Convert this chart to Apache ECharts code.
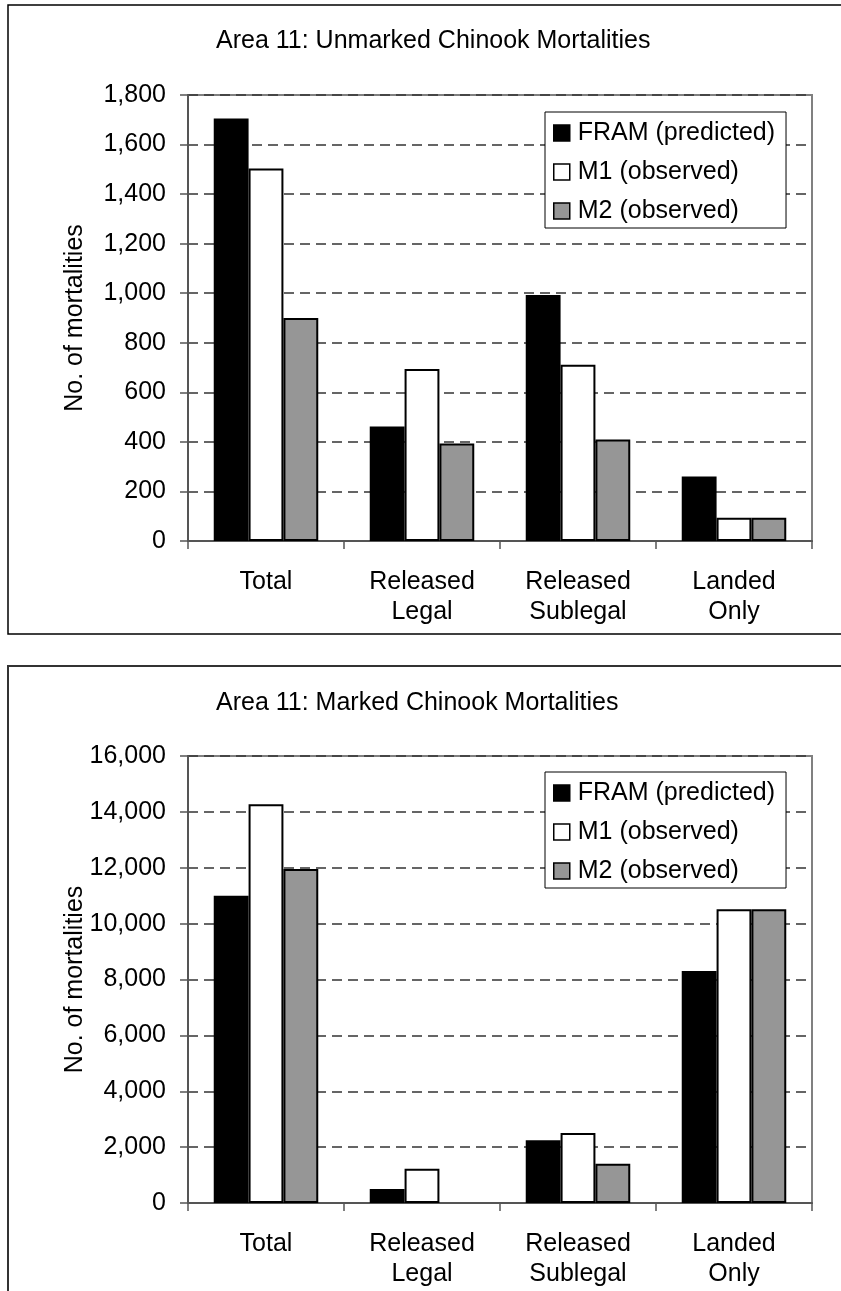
<!DOCTYPE html>
<html>
<head>
<meta charset="utf-8">
<script src="https://cdn.jsdelivr.net/npm/echarts@6/dist/echarts.min.js"></script>
<style>
html,body{margin:0;padding:0;background:#fff;}
#c{width:841px;height:1291px;}
</style>
</head>
<body>
<div id="c"></div>
<script>
var categories = ['Total', 'Released\nLegal', 'Released\nSublegal', 'Landed\nOnly'];
var seriesNames = ['FRAM (predicted)', 'M1 (observed)', 'M2 (observed)'];

var unmarkedFRAM = [1705, 462, 993, 260];
var unmarkedM1 = [1503, 694, 711, 94];
var unmarkedM2 = [900, 394, 410, 94];

var markedFRAM = [11000, 504, 2244, 8300];
var markedM1 = [14272, 1224, 2508, 10513];
var markedM2 = [11951, null, 1404, 10513];

var unmarkedTicks = {min: 0, max: 1800, interval: 200};
var markedTicks = {min: 0, max: 16000, interval: 2000};

var titles = ['Area 11: Unmarked Chinook Mortalities', 'Area 11: Marked Chinook Mortalities'];
var yName = 'No. of mortalities';

var FONT = 'Liberation Sans, Arial, Helvetica, sans-serif';
var styles = [
  {color: '#000000', borderColor: '#000000', borderWidth: 2},
  {color: '#ffffff', borderColor: '#000000', borderWidth: 2},
  {color: '#969696', borderColor: '#000000', borderWidth: 2}
];

function fmt(v) { return v.toLocaleString('en-US'); }

var grids = [
  {left: 188, top: 95, width: 624, height: 446, show: true, borderColor: '#808080', borderWidth: 2, backgroundColor: '#fff'},
  {left: 188, top: 756, width: 624, height: 447, show: true, borderColor: '#808080', borderWidth: 2, backgroundColor: '#fff'}
];

function xAxis(i) {
  return {
    type: 'category', gridIndex: i, data: categories,
    axisLine: {lineStyle: {color: '#555', width: 2}},
    axisTick: {show: true, length: 8, lineStyle: {color: '#555', width: 1.5}, alignWithLabel: false},
    axisLabel: {color: '#000', fontFamily: FONT, fontSize: 25, lineHeight: 30, margin: 26, interval: 0},
    splitLine: {show: false}
  };
}
function yAxis(i, t) {
  return {
    type: 'value', gridIndex: i, min: t.min, max: t.max, interval: t.interval,
    name: yName, nameLocation: 'middle', nameGap: 100, nameMoveOverlap: false,
    nameTextStyle: {color: '#000', fontFamily: FONT, fontSize: 25},
    axisLine: {show: true, lineStyle: {color: '#555', width: 2}},
    axisTick: {show: true, length: 8, lineStyle: {color: '#555', width: 1.5}},
    axisLabel: {color: '#000', fontFamily: FONT, fontSize: 25, margin: 22, formatter: fmt},
    splitLine: {show: true, lineStyle: {color: '#333', width: 1.5, type: [10, 6]}}
  };
}

function bars(i, arrs) {
  return arrs.map(function (d, k) {
    return {
      name: seriesNames[k], type: 'bar', xAxisIndex: i, yAxisIndex: i, data: d,
      barGap: '0%', barCategoryGap: '33%',
      itemStyle: styles[k], emphasis: {disabled: true}, silent: true,
      animation: false
    };
  });
}

function legend(i, top) {
  return {
    show: true, orient: 'vertical', left: 545, top: top,
    data: seriesNames.map(function (n, k) { return {name: n, icon: 'rect', itemStyle: {color: styles[k].color, borderColor: '#000', borderWidth: 1.5}}; }),
    itemWidth: 16, itemHeight: 16, itemGap: 11,
    textStyle: {color: '#000', fontFamily: FONT, fontSize: 25, lineHeight: 28, padding: [0, 0, 0, 3]},
    backgroundColor: '#fff', borderColor: '#000', borderWidth: 1,
    padding: [7, 11, 3, 8],
    selectedMode: false
  };
}

var chart = echarts.init(document.getElementById('c'), null, {renderer: 'canvas'});
chart.setOption({
  animation: false,
  backgroundColor: '#fff',
  title: [
    {text: titles[0], left: 211, top: 24, textStyle: {color: '#000', fontFamily: FONT, fontSize: 25, fontWeight: 'normal'}},
    {text: titles[1], left: 211, top: 686, textStyle: {color: '#000', fontFamily: FONT, fontSize: 25, fontWeight: 'normal'}}
  ],
  legend: [legend(0, 112), legend(1, 772)],
  grid: grids,
  xAxis: [xAxis(0), xAxis(1)],
  yAxis: [yAxis(0, unmarkedTicks), yAxis(1, markedTicks)],
  series: bars(0, [unmarkedFRAM, unmarkedM1, unmarkedM2]).concat(bars(1, [markedFRAM, markedM1, markedM2])),
  graphic: [
    {type: 'rect', shape: {x: 8, y: 5, width: 900, height: 629}, style: {fill: 'none', stroke: '#000', lineWidth: 1.5}, silent: true, z: 100},
    {type: 'rect', shape: {x: 8, y: 666, width: 900, height: 700}, style: {fill: 'none', stroke: '#333', lineWidth: 2}, silent: true, z: 100}
  ]
});
</script>
</body>
</html>
